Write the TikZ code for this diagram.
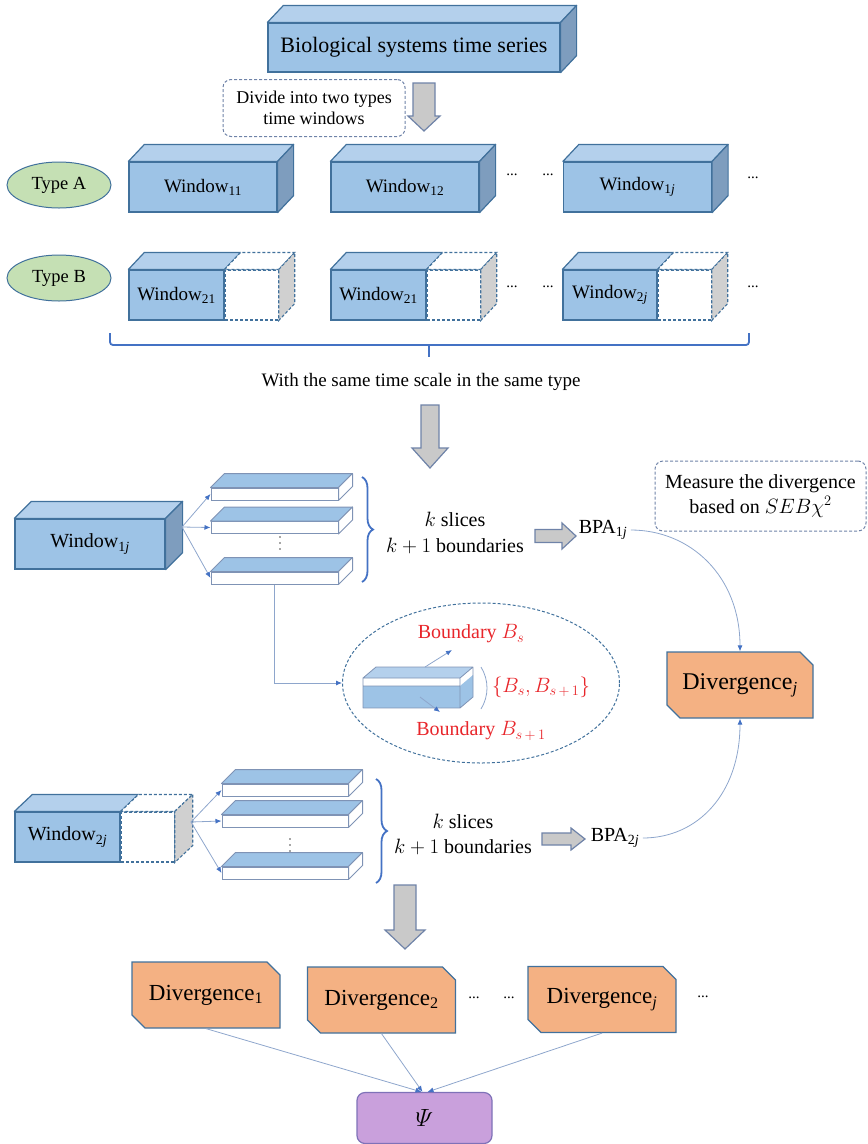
\documentclass[tikz,border=0pt]{standalone}
\usepackage{amsmath}
\usepackage{fontspec}
\setmainfont{Liberation Serif}
\usetikzlibrary{arrows.meta,shapes.geometric,shapes.misc,decorations.pathreplacing}

\definecolor{frontblue}{HTML}{9DC3E6}
\definecolor{topblue}{HTML}{B4D0EC}
\definecolor{sideblue}{HTML}{7E9DBE}
\definecolor{edgeblue}{HTML}{41719C}
\definecolor{slabedge}{HTML}{7F93B5}
\definecolor{bracecol}{HTML}{4472C4}
\definecolor{linecol}{HTML}{8EA6CC}
\definecolor{tipcol}{HTML}{4472C4}
\definecolor{greyfill}{HTML}{C9C9C9}
\definecolor{greyedge}{HTML}{6F83A8}
\definecolor{greyside}{HTML}{D0D0D0}
\definecolor{typegreen}{HTML}{C5E0B4}
\definecolor{divorange}{HTML}{F4B183}
\definecolor{psipurple}{HTML}{C9A0DC}
\definecolor{psiedge}{HTML}{7F72B8}
\definecolor{bndred}{HTML}{E8262B}

\newcommand{\sizept}[2]{\fontsize{#1}{#2}\selectfont}

% top and side faces of a window box
\newcommand{\boxfaces}[3]{%
  \filldraw[wintop] (#1.north west) -- ++(#2,-#3) -- ([shift={(#2,-#3)}]#1.north east) -- (#1.north east) -- cycle;
  \filldraw[winside] (#1.north east) -- ++(#2,-#3) -- ([shift={(#2,-#3)}]#1.south east) -- (#1.south east) -- cycle;}
% half filled window box (blue part #1, empty part #1e)
\newcommand{\halffaces}[3]{%
  \filldraw[wintop] (#1.north west) -- ++(#2,-#3) -- ([shift={(#2,-#3)}]#1.north east) -- (#1.north east) -- cycle;
  \filldraw[emptytop] (#1e.north west) -- ++(#2,-#3) -- ([shift={(#2,-#3)}]#1e.north east) -- (#1e.north east) -- cycle;
  \filldraw[emptyside] (#1e.north east) -- ++(#2,-#3) -- ([shift={(#2,-#3)}]#1e.south east) -- (#1e.south east) -- cycle;}
% thin slice
\newcommand{\slabfaces}[1]{%
  \filldraw[slabtop] (#1.north west) -- ++(14,-14) -- ([shift={(14,-14)}]#1.north east) -- (#1.north east) -- cycle;
  \filldraw[slabside] (#1.north east) -- ++(14,-14) -- ([shift={(14,-14)}]#1.south east) -- (#1.south east) -- cycle;}
% vertical dots between slices
\newcommand{\slabdots}[2]{\foreach \dy in {-6,0,6} {\fill[black!70] (#1,{#2+\dy}) circle (0.9);}}
% grey block arrows
\newcommand{\bigdown}[6]{%
  \filldraw[blockarrow] ({#1-#4},#2) -- ({#1+#4},#2) -- ({#1+#4},{#3-#6}) -- ({#1+#5},{#3-#6}) -- (#1,#3)
    -- ({#1-#5},{#3-#6}) -- ({#1-#4},{#3-#6}) -- cycle;}
\newcommand{\bigright}[6]{%
  \filldraw[blockarrow] (#1,{#3-#4}) -- ({#2-#6},{#3-#4}) -- ({#2-#6},{#3-#5}) -- (#2,#3)
    -- ({#2-#6},{#3+#5}) -- ({#2-#6},{#3+#4}) -- (#1,{#3+#4}) -- cycle;}

\begin{document}
\begin{tikzpicture}[x=1pt,y=-1pt,
  winfront/.style={draw=edgeblue, fill=frontblue, line width=1.2pt, minimum height=50, inner sep=0, font=\sizept{19}{22}},
  emptyfront/.style={draw=edgeblue, densely dashed, fill=white, line width=1.1pt, minimum height=50, inner sep=0, anchor=west},
  wintop/.style={fill=topblue, draw=edgeblue, line width=1.2pt, line join=round},
  winside/.style={fill=sideblue, draw=edgeblue, line width=1.2pt, line join=round},
  emptytop/.style={fill=white, draw=edgeblue, densely dashed, line width=1.1pt},
  emptyside/.style={fill=greyside, draw=edgeblue, densely dashed, line width=1.1pt},
  slabfront/.style={draw=slabedge, fill=white, line width=1pt, minimum width=127, minimum height=12, inner sep=0},
  slabtop/.style={fill=frontblue, draw=slabedge, line width=1pt, line join=round},
  slabside/.style={fill=white, draw=slabedge, line width=1pt, line join=round},
  blockarrow/.style={fill=greyfill, draw=greyedge, line width=1.2pt, line join=miter},
  note/.style={draw=greyedge, densely dashed, rounded corners=8, line width=1pt, align=center},
  typeell/.style={ellipse, draw=edgeblue, fill=typegreen, line width=1pt, minimum width=104, minimum height=46, inner sep=0, font=\sizept{18.5}{22}},
  divbox/.style={chamfered rectangle, chamfered rectangle corners={north east,south west}, chamfered rectangle xsep=10pt,
    draw=edgeblue, fill=divorange, line width=1.2pt, minimum width=148, minimum height=66, inner sep=0, font=\sizept{23}{26}},
  bracepath/.style={draw=bracecol, line width=1.8pt, rounded corners=3},
  slicebrace/.style={draw=bracecol, line width=1.8pt, decorate, decoration={brace, amplitude=11pt}},
  conn/.style={draw=linecol, line width=0.8pt, -{Latex[length=6pt,width=5pt,color=tipcol]}},
  dots/.style={font=\sizept{15}{18}},
  redlab/.style={text=bndred, font=\sizept{20}{24}}]
\useasboundingbox (0,0) rectangle (868,1144);

% time series and the two types of windows
\node[winfront, minimum width=292, minimum height=49, font=\sizept{22}{26}] (series) at (414,47.5) {Biological systems time series};
\boxfaces{series}{16}{17}
\node[note, minimum width=182, minimum height=57, font=\sizept{18}{21}] (divide) at (314,108) {Divide into two types\\time windows};
\bigdown{424}{83}{131}{11}{16}{15}

\node[typeell] (typeA) at (59,185) {Type A};
\node[typeell] (typeB) at (59,278) {Type B};

\node[winfront, minimum width=148] (w11) at (203,187) {Window\textsubscript{11}};
\node[winfront, minimum width=148] (w12) at (405,187) {Window\textsubscript{12}};
\node[winfront, minimum width=148] (w1j) at (637.5,187) {Window\textsubscript{1\textit{j}}};
\foreach \n in {w11,w12,w1j} {\boxfaces{\n}{16}{17}}
\node[dots] (da1) at (512,175) {...};
\node[dots] (da2) at (548,175) {...};
\node[dots] (da3) at (753,178) {...};

\node[winfront, minimum width=95] (w21) at (176.5,295) {Window\textsubscript{21}};
\node[emptyfront, minimum width=53] (w21e) at (w21.east) {};
\node[winfront, minimum width=95] (w22) at (378.5,295) {Window\textsubscript{21}};
\node[emptyfront, minimum width=53] (w22e) at (w22.east) {};
\node[winfront, minimum width=94] (w2j) at (610,295) {Window\textsubscript{2\textit{j}}};
\node[emptyfront, minimum width=53] (w2je) at (w2j.east) {};
\foreach \n in {w21,w22,w2j} {\halffaces{\n}{16}{17}}
\node[dots] (db1) at (512,287) {...};
\node[dots] (db2) at (548,287) {...};
\node[dots] (db3) at (753,287) {...};

\draw[bracepath] (110,333) -- (110,345) -- (749,345) -- (749,333);
\draw[bracepath] (429,345) -- (429,357);
\node[font=\sizept{19}{22}] (scale) at (421,382) {With the same time scale in the same type};
\bigdown{430}{405}{468}{9}{18}{20}

% slicing of Window 1j
\node[winfront, minimum width=150, font=\sizept{20}{24}] (mw1j) at (90,544) {Window\textsubscript{1\textit{j}}};
\boxfaces{mw1j}{17}{17}
\node[slabfront] (s11) at (274.5,494) {};
\node[slabfront] (s12) at (274.5,527.5) {};
\node[slabfront] (s13) at (274.5,578) {};
\foreach \n in {s11,s12,s13} {\slabfaces{\n}}
\slabdots{280}{543}
\coordinate (f1) at (182,527);
\draw[conn] (f1) -- (s11.west);
\draw[conn] (f1) -- (s12.west);
\draw[conn] (f1) -- (s13.west);
\draw[slicebrace] (362,477) -- (362,582);
\node[align=center, font=\sizept{20}{26}] (slices1) at (455,533) {$k$ slices\\$k+1$ boundaries};
\bigright{535}{576}{536}{6.5}{13}{14}
\node[font=\sizept{20}{24}] (bpa1) at (603,530) {BPA\textsubscript{1\textit{j}}};
\node[note, minimum width=211, minimum height=70, font=\sizept{20}{25}] (measure) at (760.5,496) {Measure the divergence\\based on $SEB\chi^2$};

% one slice and its boundaries
\node[draw=edgeblue, densely dashed, line width=1pt, ellipse, minimum width=277, minimum height=160] (bnd) at (481,683) {};
\draw[conn] (s13.south) |- (bnd.west);
\fill[white] (363,678) rectangle (460,708);
\fill[frontblue] (363,686) rectangle (460,708);
\fill[topblue] (363,678) -- (376,667) -- (473,667) -- (460,678) -- cycle;
\fill[frontblue] (460,686) -- (473,675) -- (473,697) -- (460,708) -- cycle;
\draw[slabedge, line width=0.8pt, line join=round] (363,678) -- (376,667) -- (473,667) -- (460,678) -- cycle
  (363,678) rectangle (460,708) (473,667) -- (473,697) -- (460,708) (363,686) -- (460,686);
\coordinate (up0) at (425,667);
\coordinate (up1) at (452,650);
\coordinate (dn0) at (420,697);
\coordinate (dn1) at (440,712);
\draw[conn] (up0) -- (up1);
\draw[conn] (dn0) -- (dn1);
\draw[linecol, line width=0.8pt] (481,667) .. controls (489,680) and (489,696) .. (481,709);
\node[redlab] (bs) at (471,634) {Boundary $B_s$};
\node[redlab] (bs1) at (481,731) {Boundary $B_{s\,+\,1}$};
\node[redlab] (bset) at (541,687) {$\{B_s, B_{s\,+\,1}\}$};

\node[divbox, minimum width=146, font=\sizept{24}{28}] (divj) at (740,685) {Divergence\textsubscript{\textit{j}}};
\draw[conn] (bpa1.east) .. controls +(60,0) and +(0,-75) .. (divj.north);

% slicing of Window 2j
\node[winfront, minimum width=105, font=\sizept{20}{24}] (mw2j) at (67.5,837) {Window\textsubscript{2\textit{j}}};
\node[emptyfront, minimum width=53] (mw2je) at (mw2j.east) {};
\halffaces{mw2j}{18}{17}
\node[slabfront, minimum width=126] (s21) at (285,790) {};
\node[slabfront, minimum width=126] (s22) at (285,821) {};
\node[slabfront, minimum width=126] (s23) at (285,873) {};
\foreach \n in {s21,s22,s23} {\slabfaces{\n}}
\slabdots{290}{845}
\coordinate (f2) at (191,822);
\draw[conn] (f2) -- (s21.west);
\draw[conn] (f2) -- (s22.west);
\draw[conn] (f2) -- (s23.west);
\draw[slicebrace] (376,779) -- (376,883);
\node[align=center, font=\sizept{20}{25}] (slices2) at (463,834.5) {$k$ slices\\$k+1$ boundaries};
\bigright{542}{585}{839}{6}{11}{14}
\node[font=\sizept{20}{24}] (bpa2) at (615,838) {BPA\textsubscript{2\textit{j}}};
\draw[conn] (bpa2.east) .. controls +(55,0) and +(0,75) .. (divj.south);

% all divergences
\bigdown{405}{885}{949}{11}{20}{19}
\node[divbox] (d1) at (206,995) {Divergence\textsubscript{1}};
\node[divbox] (d2) at (381.5,1000) {Divergence\textsubscript{2}};
\node[divbox] (dj) at (602,999.5) {Divergence\textsubscript{\textit{j}}};
\node[dots] (dc1) at (474,998) {...};
\node[dots] (dc2) at (509,998) {...};
\node[dots] (dc3) at (703,997) {...};
\node[draw=psiedge, fill=psipurple, rounded corners=8, line width=1.2pt, minimum width=135, minimum height=51, font=\sizept{25}{28}] (psi) at (424.5,1118) {$\varPsi$};
\draw[conn] (d1.south) -- ([xshift=-3]psi.north);
\draw[conn] (d2.south) -- ([xshift=-2]psi.north);
\draw[conn] (dj.south) -- ([xshift=3]psi.north);
\end{tikzpicture}
\end{document}
